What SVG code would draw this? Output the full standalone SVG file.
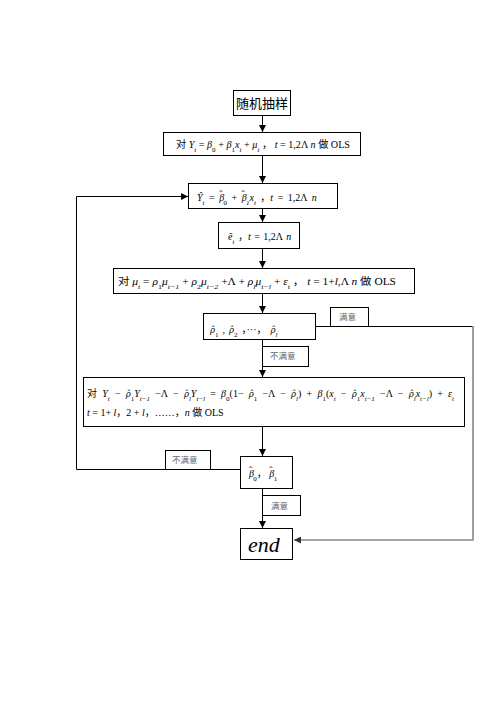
<svg xmlns="http://www.w3.org/2000/svg" width="496" height="702" viewBox="0 0 496 702">
<defs>
<marker id="ah" viewBox="0 0 8 8" refX="8" refY="4" markerWidth="7" markerHeight="7" markerUnits="userSpaceOnUse" orient="auto">
<path d="M0,0 L8,4 L0,8 z" fill="#000"/>
</marker>
<marker id="ahg" viewBox="0 0 8 8" refX="8" refY="4" markerWidth="7" markerHeight="7" markerUnits="userSpaceOnUse" orient="auto">
<path d="M0,0 L8,4 L0,8 z" fill="#333"/>
</marker>
</defs>
<style>
.box{fill:#fff;stroke:#000;stroke-width:1}
.lbl{fill:#fff;stroke:#000;stroke-width:1}
.ln{fill:none;stroke:#000;stroke-width:1}
.lng{fill:none;stroke:#888;stroke-width:1.6}
.f{font-family:"Liberation Serif","Noto Sans CJK SC",serif;font-size:10px;fill:#000}
.i{font-style:italic}
.h{font-family:"DejaVu Serif",serif;font-style:italic;font-size:0.85em}
.s{font-size:7px}
.cn{font-family:"Noto Sans CJK SC",sans-serif;fill:#000}
.g{font-family:"Noto Sans CJK SC",sans-serif;font-size:8.5px;fill:#666}
</style>
<rect width="496" height="702" fill="#fff"/>
<g id="connectors">
<line class="ln" x1="262.5" y1="115" x2="262.5" y2="132" marker-end="url(#ah)"/>
<line class="ln" x1="262.5" y1="156" x2="262.5" y2="183" marker-end="url(#ah)"/>
<line class="ln" x1="262.5" y1="209" x2="262.5" y2="222" marker-end="url(#ah)"/>
<line class="ln" x1="262.5" y1="249" x2="262.5" y2="268" marker-end="url(#ah)"/>
<line class="ln" x1="262.5" y1="294" x2="262.5" y2="313" marker-end="url(#ah)"/>
<line class="ln" x1="262.5" y1="340" x2="262.5" y2="377" marker-end="url(#ah)"/>
<line class="ln" x1="262.5" y1="427" x2="262.5" y2="456" marker-end="url(#ah)"/>
<line class="ln" x1="262.5" y1="489" x2="262.5" y2="528" marker-end="url(#ah)"/>
<polyline class="ln" points="240,469.5 76.5,469.5 76.5,196.5 188,196.5" marker-end="url(#ah)"/>
<line class="ln" x1="316" y1="326.5" x2="473" y2="326.5"/>
<polyline class="lng" points="473,326 473,540 294,540" marker-end="url(#ahg)"/>
</g>
<g id="n1"><rect class="box" x="233.5" y="90.5" width="57" height="25"/><text class="cn" x="262" y="108" font-size="13" text-anchor="middle">随机抽样</text></g>
<g id="n2"><rect class="box" x="163.5" y="132.5" width="197" height="23"/>
<text class="f" x="176" y="148" textLength="174" lengthAdjust="spacingAndGlyphs">对 <tspan class="i">Y</tspan><tspan class="s i" baseline-shift="sub">t</tspan> = <tspan class="i">β</tspan><tspan class="s" baseline-shift="sub">0</tspan> + <tspan class="i">β</tspan><tspan class="s" baseline-shift="sub">1</tspan><tspan class="i">x</tspan><tspan class="s i" baseline-shift="sub">t</tspan> + <tspan class="i">μ</tspan><tspan class="s i" baseline-shift="sub">t</tspan>  ，   <tspan class="i">t</tspan> = 1,2Λ <tspan class="i">n</tspan> 做 OLS</text></g>
<g id="n3"><rect class="box" x="188.5" y="183.5" width="149" height="25"/>
<text class="f" x="197" y="201" font-size="12" word-spacing="2"><tspan class="i">Ŷ</tspan><tspan class="s i" baseline-shift="sub">t</tspan> = <tspan class="i">β</tspan><tspan dx="-5" dy="-3">ˆ</tspan><tspan class="s" baseline-shift="sub" dx="1" dy="3">0</tspan> + <tspan class="i">β</tspan><tspan dx="-5" dy="-3">ˆ</tspan><tspan class="s i" baseline-shift="sub" dx="1" dy="3">1</tspan><tspan class="i">x</tspan><tspan class="s i" baseline-shift="sub">t</tspan> ，<tspan class="i">t</tspan> = 1,2Λ <tspan class="i">n</tspan></text></g>
<g id="n4"><rect class="box" x="218.5" y="222.5" width="81" height="26"/>
<text class="f" x="228" y="240" font-size="11" word-spacing="1"><tspan class="i">ẽ</tspan><tspan class="s i" baseline-shift="sub">t</tspan> ，<tspan class="i">t</tspan> = 1,2Λ <tspan class="i">n</tspan></text></g>
<g id="n5"><rect class="box" x="113.5" y="268.5" width="301" height="25"/>
<text class="f" x="118" y="285" textLength="278" lengthAdjust="spacingAndGlyphs">对 <tspan class="i">μ</tspan><tspan class="s i" baseline-shift="sub">t</tspan> = <tspan class="i">ρ</tspan><tspan class="s" baseline-shift="sub">1</tspan><tspan class="i">μ</tspan><tspan class="s i" baseline-shift="sub">t−1</tspan> + <tspan class="i">ρ</tspan><tspan class="s" baseline-shift="sub">2</tspan><tspan class="i">μ</tspan><tspan class="s i" baseline-shift="sub">t−2</tspan> +Λ + <tspan class="i">ρ</tspan><tspan class="s i" baseline-shift="sub">l</tspan><tspan class="i">μ</tspan><tspan class="s i" baseline-shift="sub">t−l</tspan> + <tspan class="i">ε</tspan><tspan class="s i" baseline-shift="sub">t</tspan>  ，   <tspan class="i">t</tspan> = 1+<tspan class="i">l</tspan>,Λ <tspan class="i">n</tspan> 做 OLS</text></g>
<g id="n6"><rect class="box" x="203.5" y="313.5" width="112" height="26"/>
<text class="f" x="210" y="333" font-size="13" word-spacing="1.5"><tspan class="h">ρ̂</tspan><tspan class="s" baseline-shift="sub">1</tspan> , <tspan class="h">ρ̂</tspan><tspan class="s" baseline-shift="sub">2</tspan> ，···，  <tspan class="h">ρ̂</tspan><tspan class="s i" baseline-shift="sub">l</tspan></text></g>
<g id="lab1"><rect class="lbl" x="330.5" y="307.5" width="38" height="19"/><text class="g" x="339" y="320">满意</text></g>
<g id="lab2"><rect class="lbl" x="262.5" y="346.5" width="46" height="20"/><text class="g" x="270" y="359">不满意</text></g>
<g id="n7"><rect class="box" x="83.5" y="377.5" width="381" height="49"/>
<text class="f" x="87" y="397" font-size="11" word-spacing="2.7"><tspan class="cn" font-size="10">对</tspan> <tspan class="i">Y</tspan><tspan class="s i" baseline-shift="sub">t</tspan> − <tspan class="h">ρ̂</tspan><tspan class="s" baseline-shift="sub">1</tspan><tspan class="i">Y</tspan><tspan class="s i" baseline-shift="sub">t−1</tspan> −Λ − <tspan class="h">ρ̂</tspan><tspan class="s i" baseline-shift="sub">l</tspan><tspan class="i">Y</tspan><tspan class="s i" baseline-shift="sub">t−l</tspan> = <tspan class="i">β</tspan><tspan class="s" baseline-shift="sub">0</tspan>(1− <tspan class="h">ρ̂</tspan><tspan class="s" baseline-shift="sub">1</tspan> −Λ − <tspan class="h">ρ̂</tspan><tspan class="s i" baseline-shift="sub">l</tspan>) + <tspan class="i">β</tspan><tspan class="s" baseline-shift="sub">1</tspan>(<tspan class="i">x</tspan><tspan class="s i" baseline-shift="sub">t</tspan> − <tspan class="h">ρ̂</tspan><tspan class="s" baseline-shift="sub">1</tspan><tspan class="i">x</tspan><tspan class="s i" baseline-shift="sub">t−1</tspan> −Λ − <tspan class="h">ρ̂</tspan><tspan class="s i" baseline-shift="sub">l</tspan><tspan class="i">x</tspan><tspan class="s i" baseline-shift="sub">t−l</tspan>) + <tspan class="i">ε</tspan><tspan class="s i" baseline-shift="sub">t</tspan></text>
<text class="f" x="87" y="416" font-size="9.5"><tspan class="i">t</tspan> = 1+ <tspan class="i">l</tspan>，2 + <tspan class="i">l</tspan>，……，<tspan class="i">n</tspan>  做 OLS</text></g>
<g id="n8"><rect class="box" x="240.5" y="456.5" width="52" height="32"/>
<text class="f" x="249" y="477" font-size="12"><tspan class="i">β</tspan><tspan dx="-5" dy="-3">ˆ</tspan><tspan class="s" baseline-shift="sub" dx="1" dy="3">0</tspan>， <tspan class="i">β</tspan><tspan dx="-5" dy="-3">ˆ</tspan><tspan class="s" baseline-shift="sub" dx="1" dy="3">1</tspan></text></g>
<g id="lab3"><rect class="lbl" x="165.5" y="450.5" width="45" height="19"/><text class="g" x="172" y="463">不满意</text></g>
<g id="lab4"><rect class="lbl" x="262.5" y="495.5" width="38" height="20"/><text class="g" x="271" y="509">满意</text></g>
<g id="n9"><rect class="box" x="240.5" y="528.5" width="52" height="31"/>
<text x="248" y="552" font-family="Liberation Serif, serif" font-style="italic" font-size="22" fill="#000">end</text></g>
</svg>
